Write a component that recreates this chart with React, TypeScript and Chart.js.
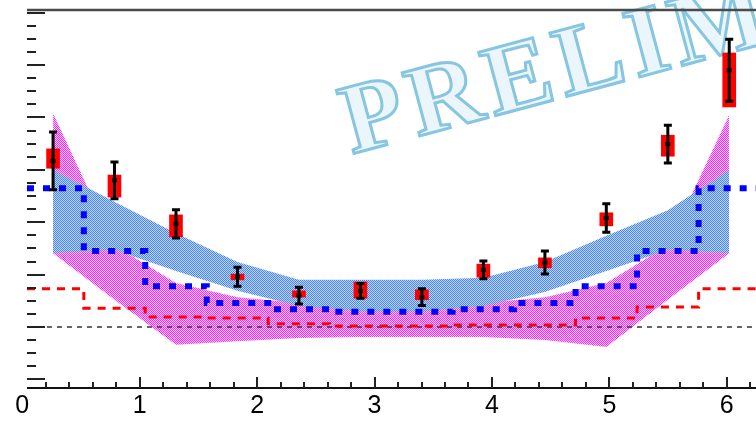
import React, { useEffect, useRef } from "react";
import { Chart, registerables } from "chart.js";

Chart.register(...registerables);

// ---- data (x in radians, y in arbitrary units; dashed baseline at 0) ----
const binCenters = [0.262, 0.785, 1.309, 1.833, 2.356, 2.88, 3.403, 3.927, 4.451, 4.974, 5.498, 6.021];
const binEdges = [0.04, 0.524, 1.047, 1.571, 2.094, 2.618, 3.142, 3.665, 4.189, 4.712, 5.236, 5.76, 6.283];

const dataY = [3.17, 2.8, 1.97, 0.96, 0.6, 0.69, 0.57, 1.09, 1.23, 2.08, 3.49, 4.9];
const statErr = [0.55, 0.35, 0.27, 0.18, 0.16, 0.14, 0.16, 0.17, 0.22, 0.27, 0.36, 0.59];
const sysHigh = [3.4, 2.9, 2.14, 1.01, 0.69, 0.86, 0.71, 1.2, 1.32, 2.18, 3.66, 5.23];
const sysLow = [3.03, 2.48, 1.72, 0.9, 0.57, 0.55, 0.52, 0.95, 1.13, 1.93, 3.26, 4.2];

const blueBandHigh = [3.0, 2.39, 1.79, 1.24, 0.9, 0.9, 0.9, 0.94, 1.24, 1.74, 2.23, 3.0];
const blueBandLow = [1.41, 1.47, 1.07, 0.69, 0.4, 0.29, 0.29, 0.4, 0.67, 1.07, 1.47, 1.41];
const pinkBandHigh = [4.08, 1.56, 0.84, 0.57, 0.46, 0.42, 0.42, 0.46, 0.57, 0.84, 1.56, 4.05];
const pinkBandLow = [1.41, 0.52, -0.34, -0.27, -0.21, -0.19, -0.19, -0.19, -0.25, -0.38, 0.52, 1.41];

const blueStep = [2.65, 1.45, 0.78, 0.46, 0.34, 0.29, 0.29, 0.34, 0.46, 0.78, 1.45, 2.65];
const redStep = [0.73, 0.36, 0.19, 0.17, 0.06, 0.02, 0.02, 0.04, 0.04, 0.17, 0.38, 0.73];

const baseline = 0;
const xTickLabels = [0, 1, 2, 3, 4, 5, 6];
const xRange = [0.04, 6.283];
const yRange = [-1.164, 6.05];
const yMajorTicks = [-1, 0, 1, 2, 3, 4, 5, 6];

function makePattern(ctx: CanvasRenderingContext2D, dot: string, back: string) {
  const p = document.createElement("canvas");
  p.width = 2;
  p.height = 2;
  const g = p.getContext("2d")!;
  g.fillStyle = back;
  g.fillRect(0, 0, 2, 2);
  g.fillStyle = dot;
  g.fillRect(0, 0, 1, 1);
  g.fillRect(1, 1, 1, 1);
  return ctx.createPattern(p, "repeat")!;
}

const stepData = (vals: number[]) =>
  binEdges.map((x, i) => ({ x, y: vals[Math.min(i, vals.length - 1)] }));
const bandData = (vals: number[]) => binCenters.map((x, i) => ({ x, y: vals[i] }));

const framePlugin = {
  id: "framePlugin",
  afterDatasetsDraw(chart: any) {
    const { ctx, chartArea, scales } = chart;
    const xs = scales.x;
    const ys = scales.y;
    ctx.save();
    // statistical error bars
    ctx.strokeStyle = "#000";
    ctx.fillStyle = "#000";
    ctx.lineWidth = 3;
    binCenters.forEach((xv, i) => {
      const px = xs.getPixelForValue(xv);
      const top = ys.getPixelForValue(dataY[i] + statErr[i]);
      const bot = ys.getPixelForValue(dataY[i] - statErr[i]);
      const mid = ys.getPixelForValue(dataY[i]);
      ctx.beginPath();
      ctx.moveTo(px, top);
      ctx.lineTo(px, bot);
      ctx.moveTo(px - 4, top);
      ctx.lineTo(px + 4, top);
      ctx.moveTo(px - 4, bot);
      ctx.lineTo(px + 4, bot);
      ctx.stroke();
      ctx.fillRect(px - 2.5, mid - 2, 5, 4);
    });

    // frame: top line and bottom axis line
    ctx.strokeStyle = "#4a4a4a";
    ctx.lineWidth = 2.5;
    ctx.beginPath();
    ctx.moveTo(chartArea.left, chartArea.top);
    ctx.lineTo(chartArea.right + 5, chartArea.top);
    ctx.stroke();
    ctx.strokeStyle = "#111";
    ctx.lineWidth = 2;
    ctx.beginPath();
    ctx.moveTo(chartArea.left, chartArea.bottom);
    ctx.lineTo(chartArea.right + 5, chartArea.bottom);
    ctx.stroke();

    // y ticks (inward)
    ctx.strokeStyle = "#222";
    ctx.lineWidth = 2;
    for (let k = 0; k < yMajorTicks.length; k++) {
      for (let s = 0; s < 4; s++) {
        const v = yMajorTicks[k] + s * 0.25;
        if (v < yRange[0] || v > yRange[1]) continue;
        const py = Math.round(ys.getPixelForValue(v));
        const len = s === 0 ? 18 : 9;
        ctx.beginPath();
        ctx.moveTo(chartArea.left, py);
        ctx.lineTo(chartArea.left + len, py);
        ctx.stroke();
      }
    }
    // x ticks (inward)
    for (let k = 0; k < xTickLabels.length; k++) {
      for (let s = 0; s < 5; s++) {
        const v = xTickLabels[k] + s * 0.2;
        if (v < xRange[0] || v > xRange[1]) continue;
        const px = Math.round(xs.getPixelForValue(v));
        const len = s === 0 ? 11 : 6;
        ctx.beginPath();
        ctx.moveTo(px, chartArea.bottom);
        ctx.lineTo(px, chartArea.bottom - len);
        ctx.stroke();
      }
    }
    ctx.restore();
  },
};

export default function App() {
  const ref = useRef<HTMLCanvasElement>(null);
  useEffect(() => {
    const canvas = ref.current!;
    const ctx = canvas.getContext("2d")!;
    const bluePat = makePattern(ctx, "#4a88f0", "#bcd3f6");
    const pinkPat = makePattern(ctx, "#ff2cff", "#ffcaff");
    const hidden = "rgba(0,0,0,0)";

    const chart = new Chart(ctx, {
      type: "line",
      data: {
        datasets: [
          {
            type: "bar",
            data: binCenters.map((x, i) => ({ x, y: [sysLow[i], sysHigh[i]] })) as any,
            backgroundColor: "#ff0000",
            borderWidth: 0,
            barThickness: 13,
            order: 0,
          } as any,
          {
            data: stepData(blueStep),
            stepped: "before",
            borderColor: "#0000ff",
            borderWidth: 6,
            borderDash: [7, 9],
            borderCapStyle: "butt",
            pointRadius: 0,
            fill: false,
            order: 1,
          },
          {
            data: stepData(redStep),
            stepped: "before",
            borderColor: "#ff0000",
            borderWidth: 3,
            borderDash: [8, 7],
            pointRadius: 0,
            fill: false,
            order: 2,
          },
          {
            data: [
              { x: xRange[0], y: baseline },
              { x: xRange[1], y: baseline },
            ],
            borderColor: "#333",
            borderWidth: 1.5,
            borderDash: [5, 5],
            pointRadius: 0,
            fill: false,
            order: 3,
          },
          {
            data: bandData(blueBandHigh),
            borderColor: hidden,
            borderWidth: 1,
            backgroundColor: bluePat,
            pointRadius: 0,
            fill: { target: 5 },
            order: 4,
          },
          {
            data: bandData(blueBandLow),
            borderColor: hidden,
            borderWidth: 1,
            pointRadius: 0,
            fill: false,
            order: 5,
          },
          {
            data: bandData(pinkBandHigh),
            borderColor: hidden,
            borderWidth: 1,
            backgroundColor: pinkPat,
            pointRadius: 0,
            fill: { target: 7 },
            order: 6,
          },
          {
            data: bandData(pinkBandLow),
            borderColor: hidden,
            borderWidth: 1,
            pointRadius: 0,
            fill: false,
            order: 7,
          },
        ],
      },
      options: {
        animation: false,
        responsive: false,
        devicePixelRatio: 1,
        layout: { padding: { left: 0, right: 40, top: 10, bottom: 0 } },
        plugins: { legend: { display: false }, tooltip: { enabled: false } },
        scales: {
          x: {
            type: "linear",
            min: xRange[0],
            max: xRange[1],
            offset: false,
            grid: { display: false, drawTicks: false },
            border: { display: false },
            afterBuildTicks: (s: any) => {
              s.ticks = xTickLabels.map((v) => ({ value: v }));
            },
            afterFit: (s: any) => {
              s.height = 33;
            },
            ticks: {
              padding: 3,
              autoSkip: false,
              maxRotation: 0,
              color: "#000",
              font: { family: "Liberation Sans", size: 25 },
            },
          },
          y: {
            type: "linear",
            min: yRange[0],
            max: yRange[1],
            grid: { display: false, drawTicks: false },
            border: { display: false },
            ticks: { display: false },
            afterFit: (s: any) => {
              s.width = 27;
            },
          },
        },
      },
      plugins: [framePlugin],
    } as any);
    return () => chart.destroy();
  }, []);

  return (
    <div
      style={{
        position: "fixed",
        left: 0,
        top: 0,
        width: 756,
        height: 421,
        overflow: "hidden",
        background: "#fff",
      }}
    >
      <div
        style={{
          position: "absolute",
          left: 352,
          top: 71,
          fontFamily: "Liberation Serif",
          fontWeight: "bold",
          fontSize: 100,
          lineHeight: 1,
          letterSpacing: 7,
          whiteSpace: "nowrap",
          color: "#eaf6fb",
          WebkitTextStroke: "3px #86c6e0",
          transform: "rotate(-15deg)",
          transformOrigin: "0px 84px",
          zIndex: 0,
        }}
      >
        PRELIMINARY
      </div>
      <canvas
        ref={ref}
        width={800}
        height={421}
        style={{ position: "absolute", left: 0, top: 0, zIndex: 1 }}
      />
    </div>
  );
}
